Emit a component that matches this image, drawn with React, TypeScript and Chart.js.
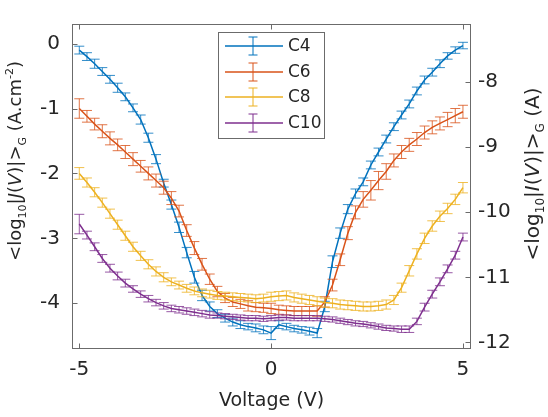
import React, { useEffect, useRef } from 'react';
import { Chart, registerables } from 'chart.js';

Chart.register(...registerables);

// ---------- DATA ----------
const voltage = [
  -5.0, -4.8, -4.6, -4.4, -4.2, -4.0, -3.8, -3.6, -3.4, -3.2, -3.0, -2.8, -2.6,
  -2.4, -2.2, -2.0, -1.8, -1.6, -1.4, -1.2, -1.0, -0.8, -0.6, -0.4, -0.2, 0.0,
  0.2, 0.4, 0.6, 0.8, 1.0, 1.2, 1.4, 1.6, 1.8, 2.0, 2.2, 2.4, 2.6, 2.8, 3.0,
  3.2, 3.4, 3.6, 3.8, 4.0, 4.2, 4.4, 4.6, 4.8, 5.0,
];

const c4Mean = [
  -0.10, -0.20, -0.31, -0.43, -0.55, -0.68, -0.82, -0.99, -1.17, -1.45, -1.78, -2.15, -2.48,
  -2.83, -3.22, -3.60, -3.88, -4.05, -4.16, -4.23, -4.29, -4.33, -4.36, -4.38, -4.41, -4.46,
  -4.33, -4.36, -4.39, -4.41, -4.43, -4.46, -4.05, -3.36, -2.92, -2.55, -2.31, -2.13, -1.87, -1.67, -1.47,
  -1.28, -1.10, -0.93, -0.73, -0.56, -0.44, -0.31, -0.19, -0.10, -0.03,
];
const c4Err = [
  0.06, 0.06, 0.07, 0.06, 0.06, 0.07, 0.06, 0.06, 0.07, 0.07, 0.07, 0.06, 0.07,
  0.08, 0.08, 0.09, 0.08, 0.07, 0.06, 0.06, 0.06, 0.06, 0.05, 0.06, 0.06, 0.10,
  0.06, 0.05, 0.05, 0.05, 0.06, 0.07, 0.08, 0.09, 0.08, 0.07, 0.07, 0.06, 0.06, 0.06, 0.06,
  0.06, 0.06, 0.06, 0.06, 0.06, 0.06, 0.06, 0.05, 0.05, 0.05,
];

const c6Mean = [
  -1.00, -1.12, -1.24, -1.35, -1.46, -1.56, -1.67, -1.78, -1.89, -2.00, -2.11, -2.22, -2.38,
  -2.58, -2.88, -3.15, -3.40, -3.63, -3.82, -3.92, -3.98, -4.01, -4.04, -4.06, -4.07, -4.08,
  -4.10, -4.11, -4.12, -4.12, -4.12, -4.12, -3.98, -3.72, -3.33, -2.92, -2.60, -2.40, -2.26, -2.11, -1.97,
  -1.80, -1.67, -1.56, -1.47, -1.37, -1.29, -1.23, -1.17, -1.11, -1.05,
];
const c6Err = [
  0.15, 0.09, 0.09, 0.10, 0.10, 0.09, 0.10, 0.10, 0.09, 0.10, 0.10, 0.10, 0.10,
  0.09, 0.09, 0.10, 0.09, 0.08, 0.08, 0.07, 0.07, 0.07, 0.08, 0.07, 0.07, 0.08,
  0.07, 0.07, 0.07, 0.07, 0.07, 0.08, 0.08, 0.09, 0.09, 0.10, 0.10, 0.12, 0.15, 0.14, 0.12,
  0.10, 0.10, 0.10, 0.10, 0.10, 0.10, 0.10, 0.11, 0.11, 0.10,
];

const c8Mean = [
  -2.00, -2.14, -2.29, -2.45, -2.62, -2.79, -2.96, -3.13, -3.27, -3.40, -3.51, -3.60, -3.67,
  -3.72, -3.77, -3.81, -3.84, -3.86, -3.88, -3.89, -3.90, -3.91, -3.92, -3.93, -3.92, -3.90,
  -3.89, -3.88, -3.91, -3.93, -3.95, -3.97, -3.99, -4.00, -4.02, -4.03, -4.04, -4.05, -4.05, -4.04, -4.02,
  -3.95, -3.76, -3.50, -3.24, -3.00, -2.81, -2.66, -2.54, -2.40, -2.22,
];
const c8Err = [
  0.09, 0.07, 0.07, 0.07, 0.07, 0.07, 0.07, 0.07, 0.07, 0.07, 0.07, 0.07, 0.06,
  0.06, 0.06, 0.06, 0.06, 0.06, 0.06, 0.06, 0.06, 0.06, 0.06, 0.06, 0.06, 0.07,
  0.07, 0.07, 0.07, 0.07, 0.07, 0.07, 0.07, 0.07, 0.07, 0.07, 0.07, 0.07, 0.07, 0.07, 0.07,
  0.07, 0.07, 0.08, 0.08, 0.08, 0.08, 0.08, 0.08, 0.08, 0.08,
];

const c10Mean = [
  -2.78, -2.95, -3.13, -3.31, -3.46, -3.58, -3.69, -3.78, -3.86, -3.93, -3.99, -4.04, -4.08,
  -4.10, -4.12, -4.14, -4.16, -4.18, -4.19, -4.20, -4.21, -4.22, -4.23, -4.23, -4.24, -4.23,
  -4.22, -4.22, -4.23, -4.23, -4.23, -4.23, -4.24, -4.25, -4.27, -4.29, -4.31, -4.32, -4.34, -4.36, -4.38,
  -4.39, -4.40, -4.40, -4.28, -4.06, -3.86, -3.67, -3.47, -3.26, -2.98,
];
const c10Err = [
  0.15, 0.06, 0.06, 0.06, 0.06, 0.06, 0.06, 0.05, 0.05, 0.05, 0.05, 0.05, 0.05,
  0.05, 0.05, 0.05, 0.05, 0.05, 0.04, 0.04, 0.04, 0.04, 0.04, 0.04, 0.04, 0.04,
  0.04, 0.04, 0.04, 0.04, 0.04, 0.04, 0.04, 0.04, 0.04, 0.04, 0.04, 0.04, 0.04, 0.04, 0.04,
  0.04, 0.05, 0.05, 0.05, 0.06, 0.06, 0.06, 0.06, 0.06, 0.06,
];

const seriesNames = ['C4', 'C6', 'C8', 'C10'];
const seriesColors = ['#0072BD', '#D95319', '#EDB120', '#7E2F8E'];
const seriesMeans = [c4Mean, c6Mean, c8Mean, c10Mean];
const seriesErrs = [c4Err, c6Err, c8Err, c10Err];

const xTicks = [-5, 0, 5];
const leftTicks = [0, -1, -2, -3, -4];
const rightTicks = [-8, -9, -10, -11, -12];

const xTitle = 'Voltage (V)';
const leftTitle = [
  { t: '<log' }, { t: '10', sub: true }, { t: '|' }, { t: 'J', it: true }, { t: '(' },
  { t: 'V', it: true }, { t: ')|>' }, { t: 'G', sub: true }, { t: ' (A.cm' }, { t: '-2', sup: true }, { t: ')' },
];
const rightTitle = [
  { t: '<log' }, { t: '10', sub: true }, { t: '|' }, { t: 'I', it: true }, { t: '(' },
  { t: 'V', it: true }, { t: ')|>' }, { t: 'G', sub: true }, { t: ' (A)' },
];

// ---------- STYLE ----------
const W = 548;
const H = 417;
const FONT = 'DejaVu Sans';
const TICK_FS = 20;
const XTITLE_FS = 19;
const LTITLE_FS = 18;
const RTITLE_FS = 20;
const LEGEND_FS = 17;
const TXT = '#262626';
const AX = '#6b6b6b';

type Seg = { t: string; sub?: boolean; sup?: boolean; it?: boolean };

function segFont(s: Seg, fs: number) {
  const size = s.sub || s.sup ? Math.round(fs * 0.62) : fs;
  return `${s.it ? 'italic ' : ''}${size}px "${FONT}"`;
}

function drawRich(ctx: CanvasRenderingContext2D, segs: Seg[], fs: number, bx: number, cy: number) {
  // rotated -90deg, baseline at screen x = bx, centered at screen y = cy
  ctx.save();
  ctx.translate(bx, cy);
  ctx.rotate(-Math.PI / 2);
  ctx.textBaseline = 'alphabetic';
  ctx.textAlign = 'left';
  ctx.fillStyle = TXT;
  let total = 0;
  for (const s of segs) {
    ctx.font = segFont(s, fs);
    total += ctx.measureText(s.t).width;
  }
  let x = -total / 2;
  for (const s of segs) {
    ctx.font = segFont(s, fs);
    const dy = s.sub ? fs * 0.25 : s.sup ? -fs * 0.42 : 0;
    ctx.fillText(s.t, x, dy);
    x += ctx.measureText(s.t).width;
  }
  ctx.restore();
}

const decorPlugin = {
  id: 'decor',
  afterDatasetDraw(chart: any, args: any) {
    const i = args.index;
    const ctx: CanvasRenderingContext2D = chart.ctx;
    const xs = chart.scales.x;
    const ys = chart.scales.y;
    const a = chart.chartArea;
    const means = seriesMeans[i];
    const errs = seriesErrs[i];
    ctx.save();
    ctx.beginPath();
    ctx.rect(a.left, a.top, a.right - a.left, a.bottom - a.top);
    ctx.clip();
    ctx.strokeStyle = seriesColors[i];
    ctx.globalAlpha = 0.8;
    ctx.lineWidth = 1;
    ctx.beginPath();
    for (let j = 0; j < voltage.length; j++) {
      const px = xs.getPixelForValue(voltage[j]);
      const pt = ys.getPixelForValue(means[j] + errs[j]);
      const pb = ys.getPixelForValue(means[j] - errs[j]);
      ctx.moveTo(px, pt);
      ctx.lineTo(px, pb);
      ctx.moveTo(px - 5, pt);
      ctx.lineTo(px + 5, pt);
      ctx.moveTo(px - 5, pb);
      ctx.lineTo(px + 5, pb);
    }
    ctx.stroke();
    ctx.restore();
  },
  afterDraw(chart: any) {
    const ctx: CanvasRenderingContext2D = chart.ctx;
    const a = chart.chartArea;
    const xs = chart.scales.x;
    const ys = chart.scales.y;
    const y2 = chart.scales.y2;
    ctx.save();
    // frame
    ctx.strokeStyle = AX;
    ctx.lineWidth = 1;
    const L = Math.round(a.left) + 0.5;
    const R = Math.round(a.right) - 0.5;
    const T = Math.round(a.top) + 0.5;
    const B = Math.round(a.bottom) - 0.5;
    ctx.strokeRect(L, T, R - L, B - T);
    // ticks (inward)
    const tl = 5;
    ctx.beginPath();
    for (const v of xTicks) {
      const px = Math.round(xs.getPixelForValue(v)) + 0.5;
      ctx.moveTo(px, B);
      ctx.lineTo(px, B - tl);
      ctx.moveTo(px, T);
      ctx.lineTo(px, T + tl);
    }
    for (const v of leftTicks) {
      const py = Math.round(ys.getPixelForValue(v)) + 0.5;
      ctx.moveTo(L, py);
      ctx.lineTo(L + tl, py);
    }
    for (const v of rightTicks) {
      const py = Math.round(y2.getPixelForValue(v)) + 0.5;
      ctx.moveTo(R, py);
      ctx.lineTo(R - tl, py);
    }
    ctx.stroke();

    // axis titles
    ctx.fillStyle = TXT;
    ctx.font = `${XTITLE_FS}px "${FONT}"`;
    ctx.textAlign = 'center';
    ctx.textBaseline = 'alphabetic';
    ctx.fillText(xTitle, (a.left + a.right) / 2, 406);
    drawRich(ctx, leftTitle, LTITLE_FS, 21, 161);
    drawRich(ctx, rightTitle, RTITLE_FS, 539, 174);

    // legend
    const lx = 218.5, ly = 32.5, lw = 106, lh = 106;
    ctx.fillStyle = '#ffffff';
    ctx.fillRect(lx, ly, lw, lh);
    ctx.strokeStyle = '#6b6b6b';
    ctx.lineWidth = 1;
    ctx.strokeRect(lx, ly, lw, lh);
    const rows = [46, 72, 97, 123];
    for (let i = 0; i < seriesNames.length; i++) {
      const ry = rows[i];
      ctx.strokeStyle = seriesColors[i];
      ctx.lineWidth = 1.5;
      ctx.beginPath();
      ctx.moveTo(225, ry);
      ctx.lineTo(283, ry);
      ctx.stroke();
      ctx.lineWidth = 1;
      ctx.beginPath();
      ctx.moveTo(253, ry - 9);
      ctx.lineTo(253, ry + 9);
      ctx.moveTo(248.5, ry - 9);
      ctx.lineTo(257.5, ry - 9);
      ctx.moveTo(248.5, ry + 9);
      ctx.lineTo(257.5, ry + 9);
      ctx.stroke();
      ctx.fillStyle = TXT;
      ctx.font = `${LEGEND_FS}px "${FONT}"`;
      ctx.textAlign = 'left';
      ctx.textBaseline = 'middle';
      ctx.fillText(seriesNames[i], 288, ry + 1);
    }
    ctx.restore();
  },
};

function setTicks(values: number[]) {
  return (scale: any) => {
    scale.ticks = values.map((v) => ({ value: v }));
  };
}

export default function App() {
  const ref = useRef<HTMLCanvasElement | null>(null);
  useEffect(() => {
    if (!ref.current) return;
    const datasets = seriesNames.map((name, i) => ({
      label: name,
      data: voltage.map((v, j) => ({ x: v, y: seriesMeans[i][j] })),
      borderColor: seriesColors[i],
      backgroundColor: seriesColors[i],
      borderWidth: 1.5,
      pointRadius: 0,
      tension: 0,
      fill: false,
      yAxisID: 'y',
      order: seriesNames.length - i,
    }));
    const tickFont = { family: FONT, size: TICK_FS };
    const chart = new Chart(ref.current, {
      type: 'line',
      data: { datasets },
      plugins: [decorPlugin],
      options: {
        animation: false,
        responsive: false,
        devicePixelRatio: 1,
        layout: { padding: { top: 1, left: 0, right: 0, bottom: 0 } },
        plugins: { legend: { display: false }, tooltip: { enabled: false } },
        scales: {
          x: {
            type: 'linear',
            min: -5.19,
            max: 5.21,
            grid: { display: false, drawTicks: false },
            border: { display: false },
            afterBuildTicks: setTicks(xTicks),
            afterFit: (s: any) => { s.height = 68; },
            ticks: { font: tickFont, color: TXT, padding: 9, maxRotation: 0 },
          },
          y: {
            type: 'linear',
            position: 'left',
            min: -4.705,
            max: 0.302,
            grid: { display: false, drawTicks: false },
            border: { display: false },
            afterBuildTicks: setTicks(leftTicks),
            afterFit: (s: any) => { s.width = 72; },
            ticks: { font: tickFont, color: TXT, padding: 12 },
          },
          y2: {
            type: 'linear',
            position: 'right',
            min: -12.1,
            max: -7.111,
            grid: { display: false, drawTicks: false },
            border: { display: false },
            afterBuildTicks: setTicks(rightTicks),
            afterFit: (s: any) => { s.width = 77; },
            ticks: { font: tickFont, color: TXT, padding: 7 },
          },
        },
      },
    } as any);
    return () => chart.destroy();
  }, []);
  return (
    <div style={{ position: 'absolute', left: 0, top: 0, width: W, height: H, background: '#fff' }}>
      <canvas ref={ref} width={W} height={H} style={{ width: W, height: H, display: 'block' }} />
    </div>
  );
}
